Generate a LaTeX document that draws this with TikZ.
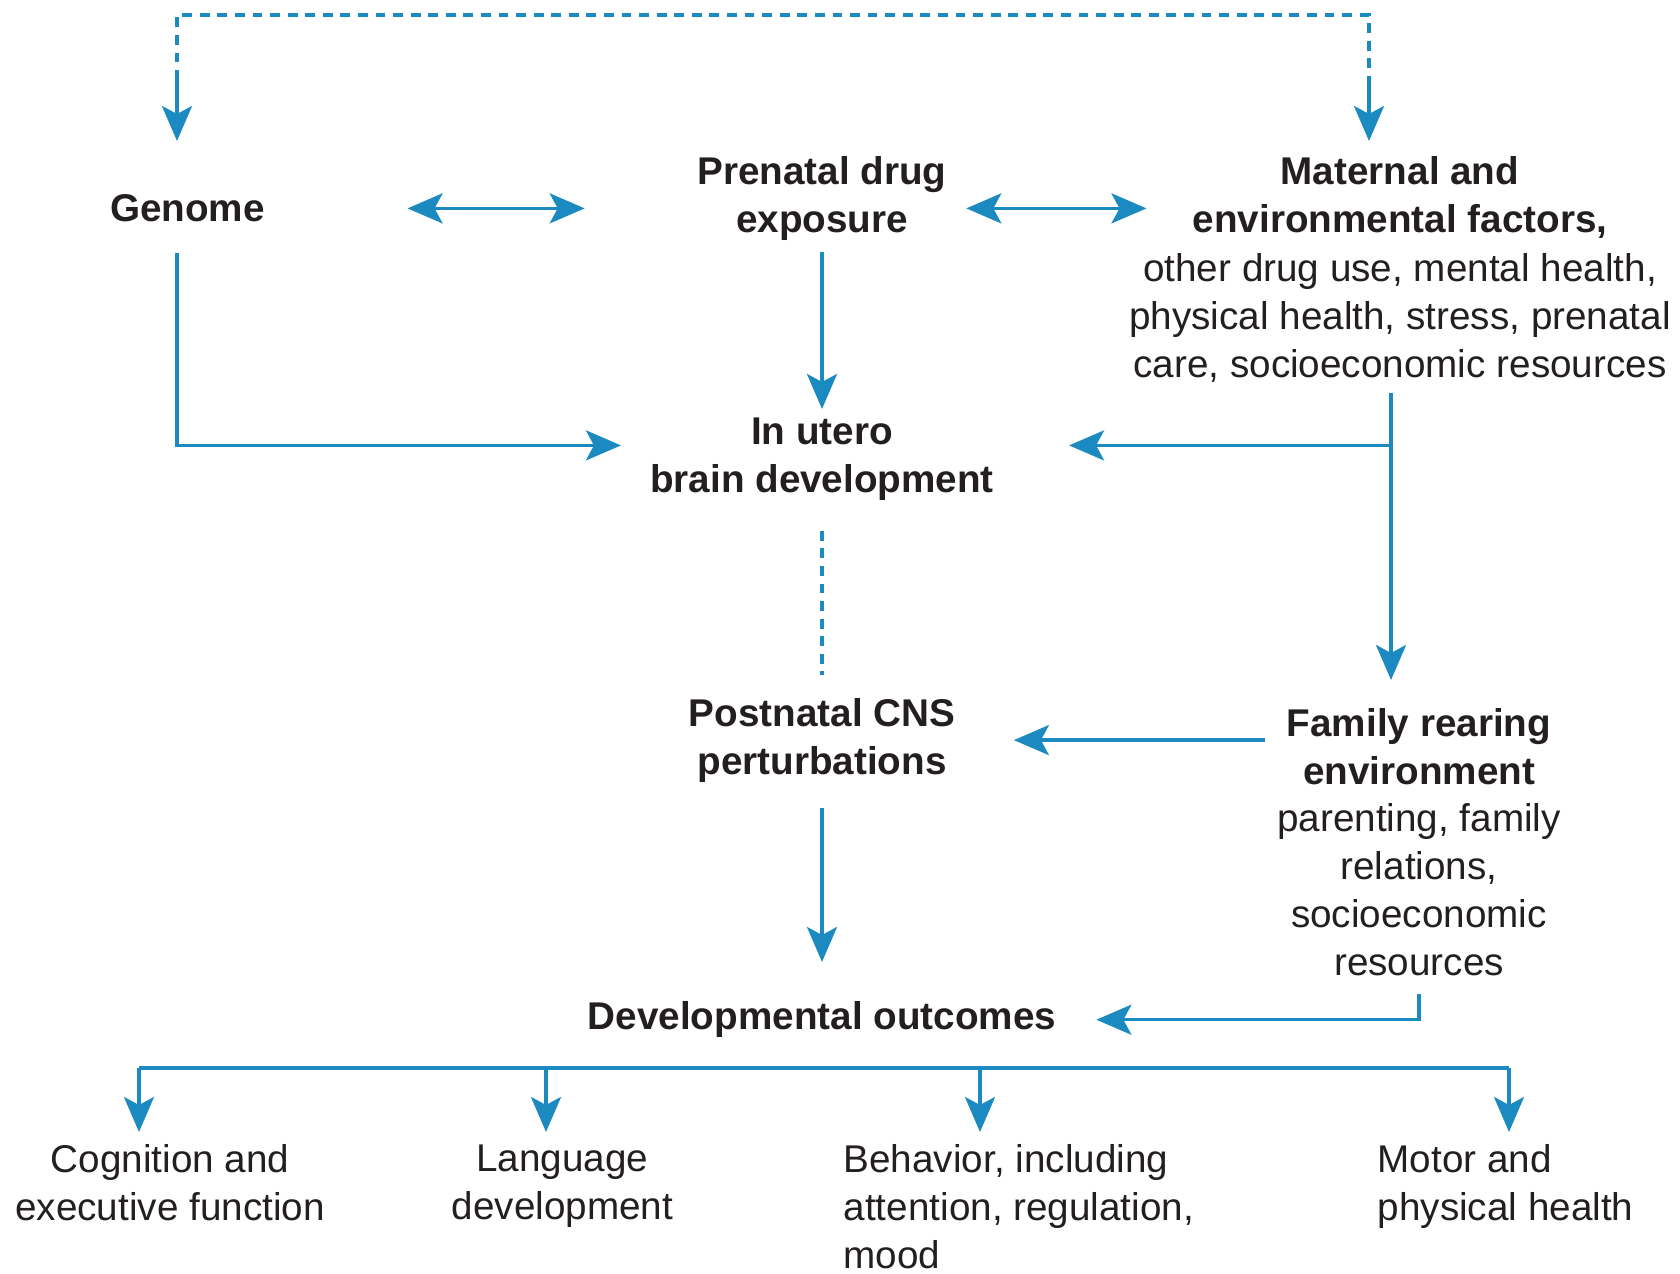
\documentclass[tikz,border=0pt]{standalone}
\usepackage{fontspec}
\setmainfont{Liberation Sans}
\usetikzlibrary{arrows.meta}
\definecolor{flowblue}{RGB}{27,138,192}
\definecolor{inkgray}{RGB}{35,31,32}

\begin{document}
\begin{tikzpicture}[anchor=north, inner sep=0pt, text=inkgray,
  >={Stealth[length=3.5mm, width=3mm, inset=0.8mm]},
  flow/.style={draw=flowblue, line width=0.95pt},
  dashline/.style={flow, dash pattern=on 2.8pt off 2.2pt},
  boldtxt/.style={font=\fontsize{11}{13.6}\selectfont\bfseries, align=center},
  plaintxt/.style={font=\fontsize{11}{13.6}\selectfont, align=center}]
  \useasboundingbox (0,0) rectangle (16.8,-12.74);
  \node[boldtxt] (genome) at (1.875,-1.94) {Genome};
  \node[boldtxt] (prenatal) at (8.22,-1.56) {Prenatal drug\\exposure};
  \node[boldtxt] (maternal) at (14.00,-1.56) {Maternal and\\environmental factors,};
  \node[plaintxt] (maternaldet) at (14.00,-2.53) {other drug use, mental health,\\physical health, stress, prenatal\\care, socioeconomic resources};
  \node[boldtxt] (utero) at (8.22,-4.17) {In utero\\brain development};
  \node[boldtxt] (postnatal) at (8.22,-6.975) {Postnatal CNS\\perturbations};
  \node[boldtxt] (family) at (14.19,-7.08) {Family rearing\\environment};
  \node[plaintxt] (familydet) at (14.19,-8.03) {parenting, family\\relations,\\socioeconomic\\resources};
  \node[boldtxt] (outcomes) at (8.22,-10.01) {Developmental outcomes};
  \node[plaintxt] (cog) at (1.70,-11.44) {Cognition and\\executive function};
  \node[plaintxt] (lang) at (5.625,-11.44) {Language\\development};
  \node[plaintxt, anchor=north west, align=left] (behav) at (8.43,-11.44) {Behavior, including\\attention, regulation,\\mood};
  \node[plaintxt, anchor=north west, align=left] (motor) at (13.77,-11.44) {Motor and\\physical health};
  \coordinate (topline) at (0,-0.15);
  \coordinate (gdash) at (1.77,-0.80);
  \coordinate (mdash) at (13.69,-0.80);
  \coordinate (mline) at (13.91,-3.93);
  \draw[dashline] (gdash) -- (gdash |- topline) -- (mdash |- topline) -- (mdash);
  \draw[flow, ->, shorten >=0.53cm] (gdash) -- (gdash |- genome.north);
  \draw[flow, ->, shorten >=0.15cm] (mdash) -- (mdash |- maternal.north);
  \draw[flow, <->, shorten <=1.42cm, shorten >=1.12cm] (genome.east) -- (genome.east -| prenatal.west);
  \draw[flow, <->, shorten <=0.19cm, shorten >=0.455cm] (genome.east -| prenatal.east) -- (genome.east -| maternal.west);
  \draw[flow, ->, shorten <=0.30cm, shorten >=0.285cm] (gdash |- genome.south) |- ([yshift=0.135cm]utero.west);
  \draw[flow, ->, shorten <=0.11cm, shorten >=0.08cm] (prenatal) -- (utero);
  \draw[flow, ->, shorten >=0.28cm] (mline) -- (mline |- family.north);
  \draw[flow, ->, shorten >=0.745cm] ([yshift=0.135cm]utero.east -| mline) -- ([yshift=0.135cm]utero.east);
  \draw[flow, ->, shorten <=0.21cm, shorten >=0.58cm] (family.west |- postnatal.east) -- (postnatal.east);
  \draw[dashline, shorten <=0.30cm, shorten >=0.225cm] (utero) -- (postnatal);
  \draw[flow, ->, shorten <=0.25cm, shorten >=0.39cm] (postnatal) -- (outcomes);
  \draw[flow, ->, shorten <=0.18cm, shorten >=0.395cm] (familydet.south) |- (outcomes.east);
  \foreach \x/\n in {1.39/cog, 5.46/lang, 9.80/behav, 15.09/motor}
    \coordinate (bus\n) at (\x,-10.68);
  \draw[flow] (buscog) -- (busmotor);
  \foreach \n in {cog, lang, behav, motor}
    \draw[flow, ->, shorten >=0.12cm] (bus\n) -- (bus\n |- \n.north);
\end{tikzpicture}
\end{document}
